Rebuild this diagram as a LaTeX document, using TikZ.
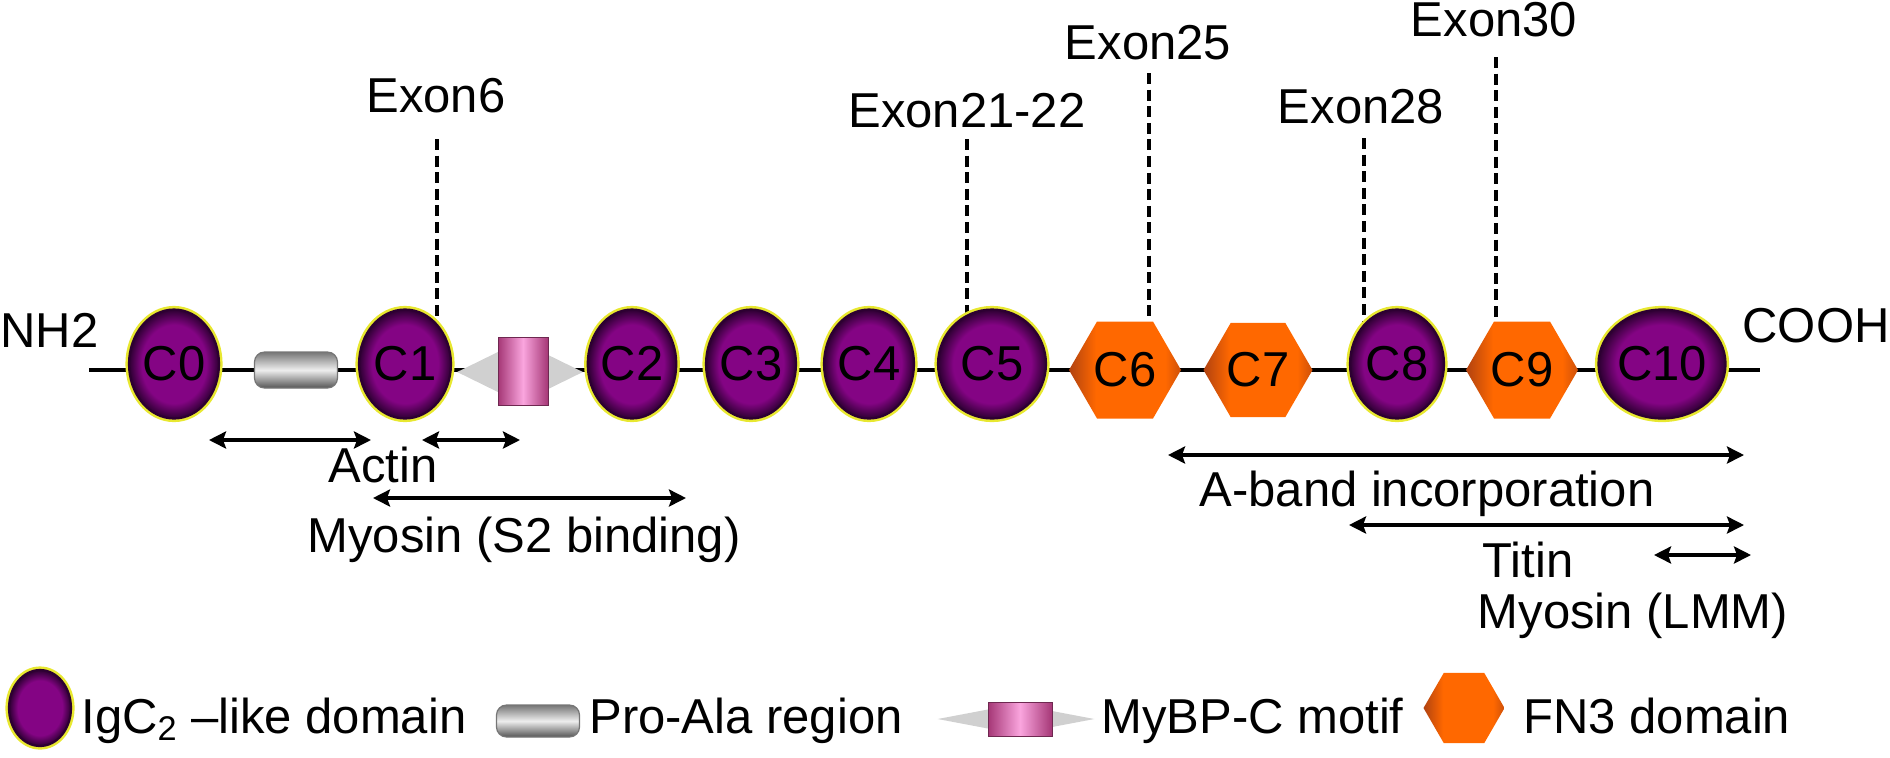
\documentclass[tikz,border=0pt]{standalone}
\usepackage{fontspec}
\setmainfont{Liberation Sans}
\usetikzlibrary{arrows.meta,shapes.geometric}
\pgfdeclarelayer{background}
\pgfsetlayers{background,main}
\definecolor{igIn}{RGB}{132,4,132}
\definecolor{igOut}{RGB}{45,0,50}
\definecolor{igRim}{RGB}{232,232,48}
\definecolor{fnMid}{RGB}{255,104,0}
\definecolor{fnEdge}{RGB}{176,66,16}
\definecolor{fnEdgeR}{RGB}{205,80,10}
\definecolor{mbPink}{RGB}{250,165,222}
\definecolor{mbDark}{RGB}{165,55,118}
\definecolor{mbLine}{RGB}{110,40,80}
\definecolor{mbGrey}{RGB}{208,208,208}
\definecolor{paTop}{RGB}{118,118,118}
\definecolor{paMid}{RGB}{238,238,238}
\definecolor{paBot}{RGB}{85,85,85}
\pgfdeclareradialshading{igshade}{\pgfpoint{0bp}{0bp}}{color(0bp)=(igIn); color(18bp)=(igIn); color(25bp)=(igOut); color(50bp)=(igOut)}
\pgfdeclarehorizontalshading{fnshade}{100bp}{color(0bp)=(fnEdge); color(25bp)=(fnEdge); color(37bp)=(fnMid); color(68bp)=(fnMid); color(75bp)=(fnEdgeR); color(100bp)=(fnEdgeR)}
\begin{document}
\begin{tikzpicture}[x=0.5pt,y=-0.5pt,
  txt/.style={font=\fontsize{24.5}{29}\selectfont, inner sep=0pt},
  igc/.style={ellipse, minimum width=#1, minimum height=54.5pt, inner sep=0pt,
    shading=igshade, draw=igOut, line width=1.1pt,
    preaction={draw=igRim, line width=3.6pt},
    font=\fontsize{24.5}{29}\selectfont},
  igc/.default=45pt,
  fn/.style={regular polygon, regular polygon sides=6, minimum size=#1, inner sep=0pt,
    shading=fnshade, font=\fontsize{24.5}{29}\selectfont},
  fn/.default=56pt,
  proala/.style={rectangle, rounded corners=5pt, inner sep=0pt,
    top color=paTop, bottom color=paBot, middle color=paMid,
    draw=paTop, line width=0.6pt},
  mbgrey/.style={diamond, inner sep=0pt, fill=mbGrey},
  mbpink/.style={rectangle, inner sep=0pt, left color=mbDark, right color=mbDark,
    middle color=mbPink, draw=mbLine, line width=0.5pt},
  exdash/.style={line width=2pt, dash pattern=on 5.5pt off 2.8pt},
  rng/.style={{Stealth[length=8.5pt,width=8.5pt,inset=1.5pt]}-{Stealth[length=8.5pt,width=8.5pt,inset=1.5pt]}, line width=2pt},
  chain/.style={line width=2pt}
]
\useasboundingbox (0,0) rectangle (1890,757);

% domains
\node[igc=45pt] (C0) at (174,364) {C0};
\node[proala, minimum width=41.5pt, minimum height=18pt] (PA) at (296,370) {};
\node[igc=46pt] (C1) at (405,364) {C1};
\node[mbgrey, minimum width=63pt, minimum height=31pt] (MB) at (520,372) {};
\node[mbpink, minimum width=25pt, minimum height=34pt] (MBr) at (523,371) {};
\node[igc=43pt] (C2) at (632,364) {C2};
\node[igc=45pt] (C3) at (751,364) {C3};
\node[igc=45pt] (C4) at (869,364) {C4};
\node[igc=54pt] (C5) at (992,364) {C5};
\node[fn] (C6) at (1125,370) {C6};
\node[fn=54.5pt] (C7) at (1258,370) {C7};
\node[igc=47pt] (C8) at (1397,364) {C8};
\node[fn] (C9) at (1522,370) {C9};
\node[igc=63pt] (C10) at (1662,364) {C10};

% ends
\node[txt, anchor=base west] (NH) at (0,347) {NH2};
\node[txt, anchor=base east] (CO) at (1890,342) {COOH};
\coordinate (lineL) at (89,370);
\coordinate (lineR) at (1760,370);

% exon labels
\node[txt, anchor=base] (ex6) at (436,112) {Exon6};
\node[txt, anchor=base] (ex21) at (967,127) {Exon21-22};
\node[txt, anchor=base] (ex25) at (1148,59) {Exon25};
\node[txt, anchor=base] (ex28) at (1361,123) {Exon28};
\node[txt, anchor=base] (ex30) at (1494,36) {Exon30};
\coordinate (d6) at (437,139);
\coordinate (d21) at (967,139);
\coordinate (d25) at (1149,73);
\coordinate (d28) at (1364,138);
\coordinate (d30) at (1496,57);

\begin{pgfonlayer}{background}
  \draw[chain] (lineL) -- (lineR);
  \draw[exdash] (d6) -- (d6 |- C1.center);
  \draw[exdash] (d21) -- (d21 |- C5.center);
  \draw[exdash] (d25) -- (d25 |- C6.center);
  \draw[exdash] (d28) -- (d28 |- C8.center);
  \draw[exdash] (d30) -- (d30 |- C9.center);
\end{pgfonlayer}

% binding ranges
\coordinate (a1L) at (209,440); \coordinate (a1R) at (371,440);
\coordinate (a2L) at (422,440); \coordinate (a2R) at (520,440);
\coordinate (a3L) at (373,498); \coordinate (a3R) at (686,498);
\coordinate (a4L) at (1168,455); \coordinate (a4R) at (1744,455);
\coordinate (a5L) at (1349,525); \coordinate (a5R) at (1744,525);
\coordinate (a6L) at (1654,555); \coordinate (a6R) at (1751,555);
\draw[rng] (a1L) -- (a1R);
\draw[rng] (a2L) -- (a2R);
\draw[rng] (a3L) -- (a3R);
\draw[rng] (a4L) -- (a4R);
\draw[rng] (a5L) -- (a5R);
\draw[rng] (a6L) -- (a6R);
\node[txt, anchor=base] (actin) at (383,482) {Actin};
\node[txt, anchor=base] (myoS2) at (524,552) {Myosin (S2 binding)};
\node[txt, anchor=base] (aband) at (1427,506) {A-band incorporation};
\node[txt, anchor=base] (titin) at (1528,577) {Titin};
\node[txt, anchor=base] (lmm) at (1633,628) {Myosin (LMM)};

% legend
\node[igc=31pt, minimum height=38pt] (Lig) at (40,708) {};
\node[txt, anchor=base west] (Ligt) at (81,733) {IgC\textsubscript{2} –like domain};
\node[proala, minimum width=41.5pt, minimum height=16pt] (Lpa) at (538,721) {};
\node[txt, anchor=base west] (Lpat) at (589,733) {Pro-Ala region};
\node[mbgrey, minimum width=78.5pt, minimum height=15pt] (Lmb) at (1016,719) {};
\node[mbpink, minimum width=32pt, minimum height=17pt] (Lmbr) at (1020,719) {};
\node[txt, anchor=base west] (Lmbt) at (1101,733) {MyBP-C motif};
\node[fn=40.5pt] (Lfn) at (1464,708) {};
\node[txt, anchor=base west] (Lfnt) at (1523,733) {FN3 domain};
\end{tikzpicture}
\end{document}
